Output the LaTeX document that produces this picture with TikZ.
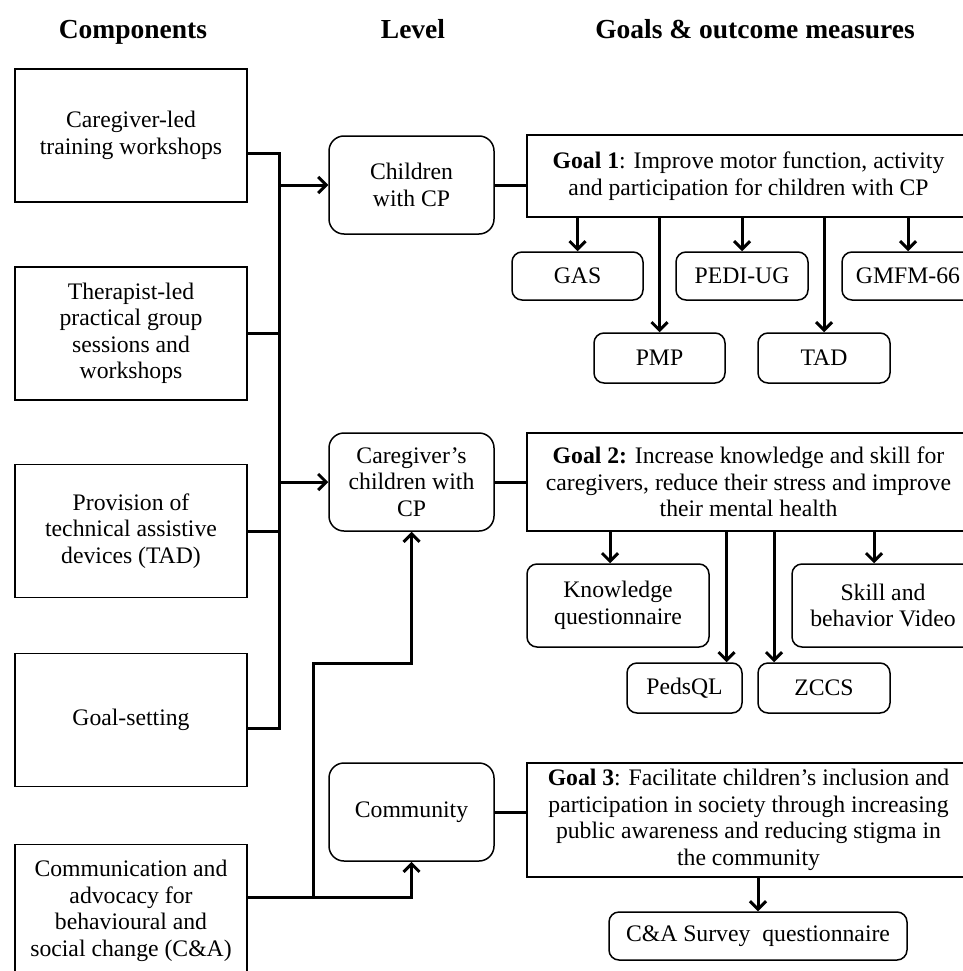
\documentclass[tikz,border=0pt]{standalone}
\usepackage{fontspec}
\setmainfont{Liberation Serif}
\usetikzlibrary{arrows.meta}
\newcommand{\boxfont}{\fontsize{23.7}{26.5}\selectfont}
\newcommand{\headfont}{\fontsize{27.5}{30}\selectfont\bfseries}
\tikzset{
  compbox/.style={draw, line width=1.5pt, minimum width=232pt,
    minimum height=133pt, inner sep=0pt, align=center, font=\boxfont},
  levelbox/.style={draw, line width=1.5pt, rounded corners=15pt,
    minimum width=165pt, minimum height=98pt, inner sep=0pt,
    align=center, font=\boxfont},
  goalbox/.style={draw, line width=1.5pt, minimum width=443pt,
    inner sep=0pt, align=center, font=\boxfont},
  measbox/.style={draw, line width=1.5pt, rounded corners=10pt,
    minimum height=48pt, inner sep=0pt, align=center, font=\boxfont},
  headlbl/.style={font=\headfont, anchor=base},
  conn/.style={line width=3pt},
  arr/.style={-{Straight Barb[length=8pt, width=16pt]}, line width=3pt},
}

\begin{document}
\begin{tikzpicture}[x=1pt, y=-1pt]
  \useasboundingbox (0,0) rectangle (962,971);

  % Headers
  \node[headlbl] (hcomp) at (133,39) {Components};
  \node[headlbl] (hlevel) at (413,39) {Level};
  \node[headlbl] (hgoal) at (755,39) {Goals \& outcome measures};

  % Left column: components
  \node[compbox] (cgw) at (131,135.5) {Caregiver-led\\training workshops};
  \node[compbox] (tps) at (131,333.5) {Therapist-led\\practical group\\sessions and\\workshops};
  \node[compbox] (tad) at (131,531) {Provision of\\technical assistive\\devices (TAD)};
  \node[compbox] (gset) at (131,720) {Goal-setting};
  \node[compbox] (cna) at (131,911) {Communication and\\advocacy for\\behavioural and\\social change (C\&A)};

  % Middle column: levels
  \node[levelbox] (kids) at (411.5,185) {Children\\with CP};
  \node[levelbox] (carers) at (411.5,482) {Caregiver’s\\children with\\CP};
  \node[levelbox] (comm) at (411.5,812) {Community};

  % Right column: goals
  \node[goalbox, minimum height=82pt] (goalone) at (748.5,176)
    {\textbf{Goal 1}: Improve motor function, activity\\and participation for children with CP};
  \node[goalbox, minimum height=98pt] (goaltwo) at (748.5,482)
    {\textbf{Goal 2:} Increase knowledge and skill for\\caregivers, reduce their stress and improve\\their mental health};
  \node[goalbox, minimum height=114pt] (goalthree) at (748.5,820)
    {\textbf{Goal 3}: Facilitate children’s inclusion and\\participation in society through increasing\\public awareness and reducing stigma in\\the community};

  % Outcome measures
  \node[measbox, minimum width=131pt] (gas) at (577.5,276) {GAS};
  \node[measbox, minimum width=132pt] (pedi) at (742,276) {PEDI-UG};
  \node[measbox, minimum width=132pt] (gmfm) at (908,276) {GMFM-66};
  \node[measbox, minimum width=131pt, minimum height=50pt] (pmp) at (659.5,358) {PMP};
  \node[measbox, minimum width=132pt, minimum height=50pt] (tadm) at (824,358) {TAD};

  \node[measbox, minimum width=182pt, minimum height=83pt] (know) at (618,605.5) {Knowledge\\questionnaire};
  \node[measbox, minimum width=182pt, minimum height=83pt] (skill) at (883,605.5) {Skill and\\behavior Video};
  \node[measbox, minimum width=115pt, minimum height=50pt] (peds) at (684.5,688) {PedsQL};
  \node[measbox, minimum width=132pt, minimum height=50pt] (zccs) at (824,688) {ZCCS};

  \node[measbox, minimum width=298pt] (survey) at (758,936) {C\&A Survey~~questionnaire};

  % Components to levels
  \coordinate (bustop) at (279,153);
  \coordinate (busbot) at (279,728);
  \draw[conn] (cgw.east |- bustop) -- (bustop) -- (busbot) -- (gset.east |- busbot);
  \draw[conn] (tps.east) -- (tps.east -| bustop);
  \draw[conn] (tad.east) -- (tad.east -| bustop);
  \draw[arr] (kids.west -| bustop) -- (kids.west);
  \draw[arr] (carers.west -| bustop) -- (carers.west);

  \coordinate (split) at (313,897);
  \draw[conn] (cna.east |- split) -- (split);
  \draw[arr] (split) -| (comm.south);
  \draw[arr] (split) -- ++(0,-234) -| (carers.south);

  % Levels to goals
  \draw[conn] (kids.east) -- (kids.east -| goalone.west);
  \draw[conn] (carers.east) -- (carers.east -| goaltwo.west);
  \draw[conn] (comm.east) -- (comm.east -| goalthree.west);

  % Goals to measures
  \foreach \m in {gas, pedi, gmfm, pmp, tadm} {
    \draw[arr] (goalone.south -| \m.north) -- (\m.north);
  }
  \foreach \m/\dx in {know/-8, skill/-9, peds/42, zccs/-50} {
    \coordinate (tip) at ([xshift=\dx pt]\m.north);
    \draw[arr] (goaltwo.south -| tip) -- (tip);
  }
  \draw[arr] (goalthree.south -| survey.north) -- (survey.north);
\end{tikzpicture}
\end{document}
